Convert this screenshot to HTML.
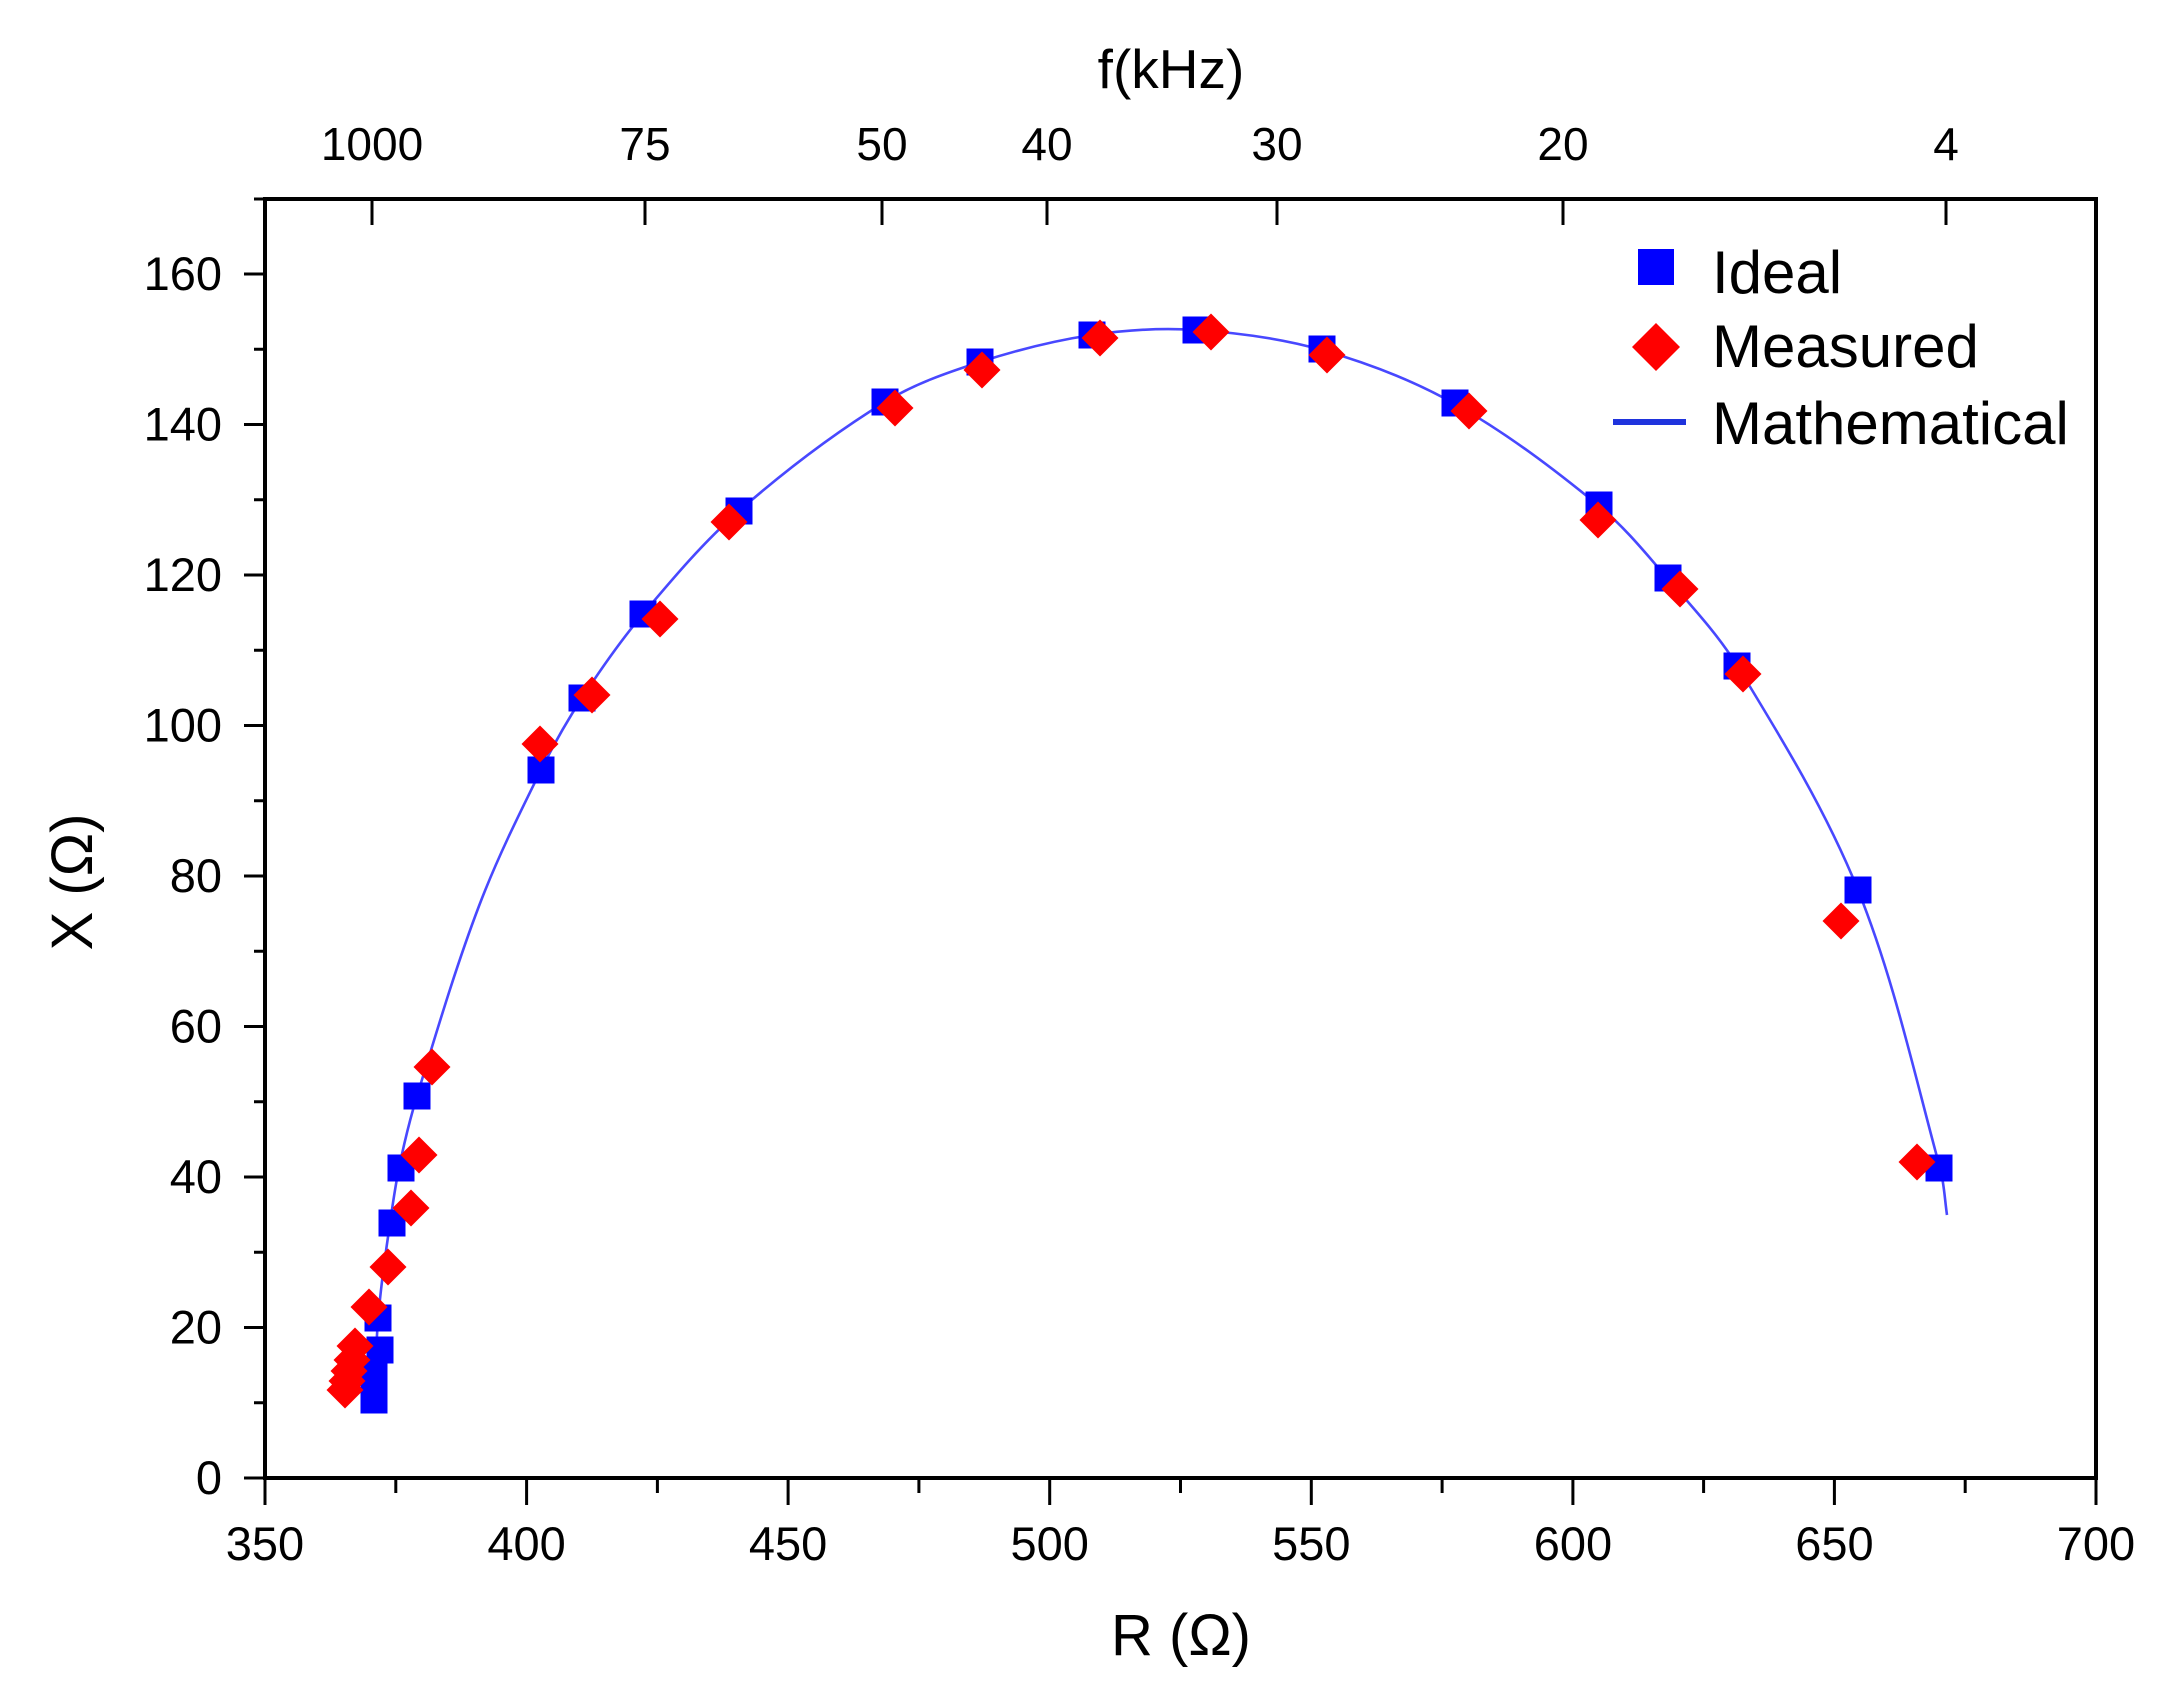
<!DOCTYPE html>
<html>
<head>
<meta charset="utf-8">
<style>
html,body{margin:0;padding:0;background:#fff;}
svg{display:block;}
text{font-family:"Liberation Sans",Arial,sans-serif;fill:#000;}
</style>
</head>
<body>
<svg width="2165" height="1702" viewBox="0 0 2165 1702" xmlns="http://www.w3.org/2000/svg">
<rect x="0" y="0" width="2165" height="1702" fill="#fff"/>

<!-- curve -->
<path fill="none" stroke="#4848ff" stroke-width="2.6" stroke-linejoin="round" d="M375,1400
C375.7,1378.3 375.8,1356.6 377,1335
C377.8,1320.0 379.3,1305.0 381,1290
C383.0,1272.3 385.4,1254.6 388,1237
C391.4,1214.0 394.3,1190.8 399,1168
C404.0,1143.8 409.8,1119.7 417,1096
C436.5,1032.3 455.3,968.3 479,906
C496.7,859.4 518.9,814.6 541,770
C553.3,745.2 566.9,721.1 582,698
C600.9,669.0 620.8,640.5 643,614
C673.2,578.1 703.7,541.9 739,511
C784.7,471.0 833.3,433.9 885,402
C914.2,383.9 947.3,372.6 980,362
C1016.5,350.2 1054.0,340.6 1092,335
C1126.3,329.9 1161.4,327.7 1196,330
C1238.4,332.8 1281.1,338.3 1322,350
C1368.0,363.1 1413.3,380.5 1455,404
C1506.2,432.9 1553.6,468.7 1599,506
C1624.9,527.3 1646.1,553.7 1668,579
C1692.5,607.4 1718.5,635.0 1738,667
C1782.0,739.0 1826.4,811.7 1858,890
C1894.1,979.6 1914.5,1074.8 1940,1168
C1944.2,1183.3 1944.7,1199.3 1947,1215"/>

<!-- Ideal squares -->
<g fill="#0000ff">
<rect x="360.5" y="1386.5" width="27" height="27"/>
<rect x="360.5" y="1374.5" width="27" height="27"/>
<rect x="360.5" y="1362.5" width="27" height="27"/>
<rect x="366.5" y="1336.5" width="27" height="27"/>
<rect x="364.5" y="1304.5" width="27" height="27"/>
<rect x="378.5" y="1209.5" width="27" height="27"/>
<rect x="387.5" y="1154.5" width="27" height="27"/>
<rect x="403.5" y="1082.5" width="27" height="27"/>
<rect x="527.5" y="756.5" width="27" height="27"/>
<rect x="568.5" y="684.5" width="27" height="27"/>
<rect x="629.5" y="600.5" width="27" height="27"/>
<rect x="725.5" y="497.5" width="27" height="27"/>
<rect x="871.5" y="388.5" width="27" height="27"/>
<rect x="966.5" y="348.5" width="27" height="27"/>
<rect x="1078.5" y="321.5" width="27" height="27"/>
<rect x="1182.5" y="316.5" width="27" height="27"/>
<rect x="1308.5" y="335.5" width="27" height="27"/>
<rect x="1441.5" y="389.5" width="27" height="27"/>
<rect x="1585.5" y="491.5" width="27" height="27"/>
<rect x="1654.5" y="564.5" width="27" height="27"/>
<rect x="1723.5" y="652.5" width="27" height="27"/>
<rect x="1844.5" y="876.5" width="27" height="27"/>
<rect x="1925.5" y="1154.5" width="27" height="27"/>
</g>

<!-- Measured diamonds -->
<g fill="#ff0000">
<path d="M345,1371.5 l18.5,18.5 l-18.5,18.5 l-18.5,-18.5z"/>
<path d="M347,1362.5 l18.5,18.5 l-18.5,18.5 l-18.5,-18.5z"/>
<path d="M349,1352.5 l18.5,18.5 l-18.5,18.5 l-18.5,-18.5z"/>
<path d="M352,1341.5 l18.5,18.5 l-18.5,18.5 l-18.5,-18.5z"/>
<path d="M355,1327.5 l18.5,18.5 l-18.5,18.5 l-18.5,-18.5z"/>
<path d="M369,1288.5 l18.5,18.5 l-18.5,18.5 l-18.5,-18.5z"/>
<path d="M388,1248.5 l18.5,18.5 l-18.5,18.5 l-18.5,-18.5z"/>
<path d="M411,1189.5 l18.5,18.5 l-18.5,18.5 l-18.5,-18.5z"/>
<path d="M419,1136.5 l18.5,18.5 l-18.5,18.5 l-18.5,-18.5z"/>
<path d="M432,1048.5 l18.5,18.5 l-18.5,18.5 l-18.5,-18.5z"/>
<path d="M540,725.5 l18.5,18.5 l-18.5,18.5 l-18.5,-18.5z"/>
<path d="M592,676.5 l18.5,18.5 l-18.5,18.5 l-18.5,-18.5z"/>
<path d="M660,600.5 l18.5,18.5 l-18.5,18.5 l-18.5,-18.5z"/>
<path d="M729,503.5 l18.5,18.5 l-18.5,18.5 l-18.5,-18.5z"/>
<path d="M895,389.5 l18.5,18.5 l-18.5,18.5 l-18.5,-18.5z"/>
<path d="M982,351.5 l18.5,18.5 l-18.5,18.5 l-18.5,-18.5z"/>
<path d="M1100,319.5 l18.5,18.5 l-18.5,18.5 l-18.5,-18.5z"/>
<path d="M1211,313.5 l18.5,18.5 l-18.5,18.5 l-18.5,-18.5z"/>
<path d="M1327,336.5 l18.5,18.5 l-18.5,18.5 l-18.5,-18.5z"/>
<path d="M1469,392.5 l18.5,18.5 l-18.5,18.5 l-18.5,-18.5z"/>
<path d="M1598,501.5 l18.5,18.5 l-18.5,18.5 l-18.5,-18.5z"/>
<path d="M1680,570.5 l18.5,18.5 l-18.5,18.5 l-18.5,-18.5z"/>
<path d="M1743,655.5 l18.5,18.5 l-18.5,18.5 l-18.5,-18.5z"/>
<path d="M1841,902.5 l18.5,18.5 l-18.5,18.5 l-18.5,-18.5z"/>
<path d="M1917,1143.5 l18.5,18.5 l-18.5,18.5 l-18.5,-18.5z"/>
</g>

<!-- axes frame -->
<g stroke="#000" stroke-width="4" fill="none" stroke-linecap="square">
<line x1="265" y1="199" x2="2096" y2="199"/>
<line x1="265" y1="1478" x2="2096" y2="1478"/>
<line x1="265" y1="199" x2="265" y2="1478"/>
<line x1="2096" y1="199" x2="2096" y2="1478"/>
</g>

<!-- ticks -->
<g stroke="#000" stroke-width="3">
<!-- left major -->
<line x1="244" y1="1478" x2="265" y2="1478"/>
<line x1="244" y1="1327.5" x2="265" y2="1327.5"/>
<line x1="244" y1="1177" x2="265" y2="1177"/>
<line x1="244" y1="1026.5" x2="265" y2="1026.5"/>
<line x1="244" y1="876" x2="265" y2="876"/>
<line x1="244" y1="725.5" x2="265" y2="725.5"/>
<line x1="244" y1="575" x2="265" y2="575"/>
<line x1="244" y1="424.5" x2="265" y2="424.5"/>
<line x1="244" y1="274" x2="265" y2="274"/>
<!-- left minor -->
<line x1="254" y1="1402.75" x2="265" y2="1402.75"/>
<line x1="254" y1="1252.25" x2="265" y2="1252.25"/>
<line x1="254" y1="1101.75" x2="265" y2="1101.75"/>
<line x1="254" y1="951.25" x2="265" y2="951.25"/>
<line x1="254" y1="800.75" x2="265" y2="800.75"/>
<line x1="254" y1="650.25" x2="265" y2="650.25"/>
<line x1="254" y1="499.75" x2="265" y2="499.75"/>
<line x1="254" y1="349.25" x2="265" y2="349.25"/>
<line x1="254" y1="199" x2="265" y2="199"/>
<!-- bottom major -->
<line x1="265" y1="1478" x2="265" y2="1505"/>
<line x1="526.6" y1="1478" x2="526.6" y2="1505"/>
<line x1="788.1" y1="1478" x2="788.1" y2="1505"/>
<line x1="1049.7" y1="1478" x2="1049.7" y2="1505"/>
<line x1="1311.3" y1="1478" x2="1311.3" y2="1505"/>
<line x1="1572.9" y1="1478" x2="1572.9" y2="1505"/>
<line x1="1834.4" y1="1478" x2="1834.4" y2="1505"/>
<line x1="2096" y1="1478" x2="2096" y2="1505"/>
<!-- bottom minor -->
<line x1="395.8" y1="1478" x2="395.8" y2="1493"/>
<line x1="657.4" y1="1478" x2="657.4" y2="1493"/>
<line x1="918.9" y1="1478" x2="918.9" y2="1493"/>
<line x1="1180.5" y1="1478" x2="1180.5" y2="1493"/>
<line x1="1442.1" y1="1478" x2="1442.1" y2="1493"/>
<line x1="1703.6" y1="1478" x2="1703.6" y2="1493"/>
<line x1="1965.2" y1="1478" x2="1965.2" y2="1493"/>
<!-- top ticks (inward) -->
<line x1="372" y1="199" x2="372" y2="225"/>
<line x1="645" y1="199" x2="645" y2="225"/>
<line x1="882" y1="199" x2="882" y2="225"/>
<line x1="1047" y1="199" x2="1047" y2="225"/>
<line x1="1277" y1="199" x2="1277" y2="225"/>
<line x1="1563" y1="199" x2="1563" y2="225"/>
<line x1="1946" y1="199" x2="1946" y2="225"/>
</g>

<!-- y tick labels -->
<g font-size="47" text-anchor="end">
<text x="222" y="1494">0</text>
<text x="222" y="1343.5">20</text>
<text x="222" y="1193">40</text>
<text x="222" y="1042.5">60</text>
<text x="222" y="892">80</text>
<text x="222" y="741.5">100</text>
<text x="222" y="591">120</text>
<text x="222" y="440.5">140</text>
<text x="222" y="290">160</text>
</g>

<!-- x tick labels -->
<g font-size="47" text-anchor="middle">
<text x="265" y="1560">350</text>
<text x="526.6" y="1560">400</text>
<text x="788.1" y="1560">450</text>
<text x="1049.7" y="1560">500</text>
<text x="1311.3" y="1560">550</text>
<text x="1572.9" y="1560">600</text>
<text x="1834.4" y="1560">650</text>
<text x="2096" y="1560">700</text>
</g>

<!-- top tick labels -->
<g font-size="46" text-anchor="middle">
<text x="372" y="160">1000</text>
<text x="645" y="160">75</text>
<text x="882" y="160">50</text>
<text x="1047" y="160">40</text>
<text x="1277" y="160">30</text>
<text x="1563" y="160">20</text>
<text x="1946" y="160">4</text>
</g>

<!-- axis titles -->
<text x="1171" y="88" font-size="55" text-anchor="middle">f(kHz)</text>
<text x="1181" y="1655" font-size="58" text-anchor="middle">R (Ω)</text>
<text transform="translate(92,882) rotate(-90)" font-size="58" text-anchor="middle">X (Ω)</text>

<!-- legend -->
<rect x="1638" y="249" width="36" height="36" fill="#0000ff"/>
<path d="M1656,323 l24,24 l-24,24 l-24,-24z" fill="#ff0000"/>
<line x1="1613" y1="422" x2="1686" y2="422" stroke="#1f33dd" stroke-width="6"/>
<g font-size="60">
<text x="1712" y="293">Ideal</text>
<text x="1712" y="367">Measured</text>
<text x="1712" y="444">Mathematical</text>
</g>
</svg>
</body>
</html>
